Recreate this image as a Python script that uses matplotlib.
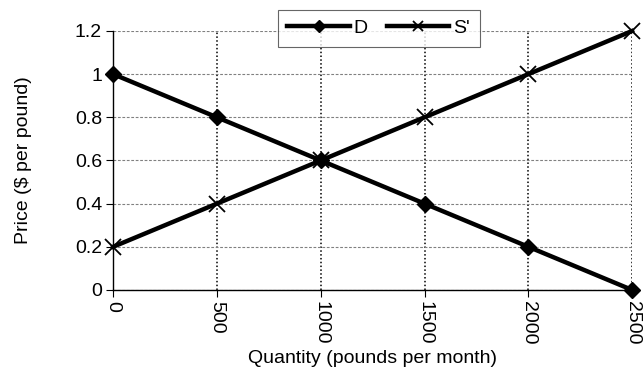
import matplotlib.pyplot as plt

plt.rcParams['font.family'] = ['Liberation Sans', 'DejaVu Sans']

quantity = [0, 500, 1000, 1500, 2000, 2500]
demand = [1.0, 0.8, 0.6, 0.4, 0.2, 0.0]
supply = [0.2, 0.4, 0.6, 0.8, 1.0, 1.2]
y_ticks = [0, 0.2, 0.4, 0.6, 0.8, 1, 1.2]
y_labels = ['0', '0.2', '0.4', '0.6', '0.8', '1', '1.2']

fig = plt.figure(figsize=(6.43, 3.78), dpi=100)
ax = fig.add_axes([0.176, 0.233, 0.807, 0.685])

ax.plot(quantity, demand, color='black', lw=3.2, marker='D', ms=8,
        label='D', clip_on=False, zorder=3)
ax.plot(quantity, supply, color='black', lw=3.2, marker='x', ms=11,
        mew=1.3, label="S'", clip_on=False, zorder=3)

ax.set_xlim(0, 2500)
ax.set_ylim(0, 1.2)
ax.set_xticks(quantity)
ax.set_xticklabels([str(q) for q in quantity], rotation=270)
ax.set_yticks(y_ticks)
ax.set_yticklabels(y_labels)
ax.tick_params(labelsize=14, direction='out', length=5, color='black', pad=3)

ax.yaxis.grid(True, color='#808080', linestyle=(0, (2.5, 1.5)), lw=0.8)
ax.xaxis.grid(True, color='black', linestyle=(0, (1, 1.5)), lw=1.1)
ax.set_axisbelow(True)
for side in ['top', 'right']:
    ax.spines[side].set_visible(False)
for side in ['left', 'bottom']:
    ax.spines[side].set_linewidth(1.0)

ax.set_xlabel('Quantity (pounds per month)', fontsize=14, labelpad=4)
ax.set_ylabel('Price ($ per pound)', fontsize=14, labelpad=31)

leg = fig.legend(loc='upper center', bbox_to_anchor=(0.589, 0.974), ncol=2,
                 fontsize=14, frameon=True, fancybox=False, edgecolor='#404040',
                 handlelength=3.2, columnspacing=1.0, borderpad=0.5,
                 handletextpad=0.2, borderaxespad=0)
leg.get_frame().set_linewidth(0.8)
leg.legend_handles[0].set_markersize(6)
leg.legend_handles[1].set_markersize(7)

fig.savefig('out.png', dpi=100)
